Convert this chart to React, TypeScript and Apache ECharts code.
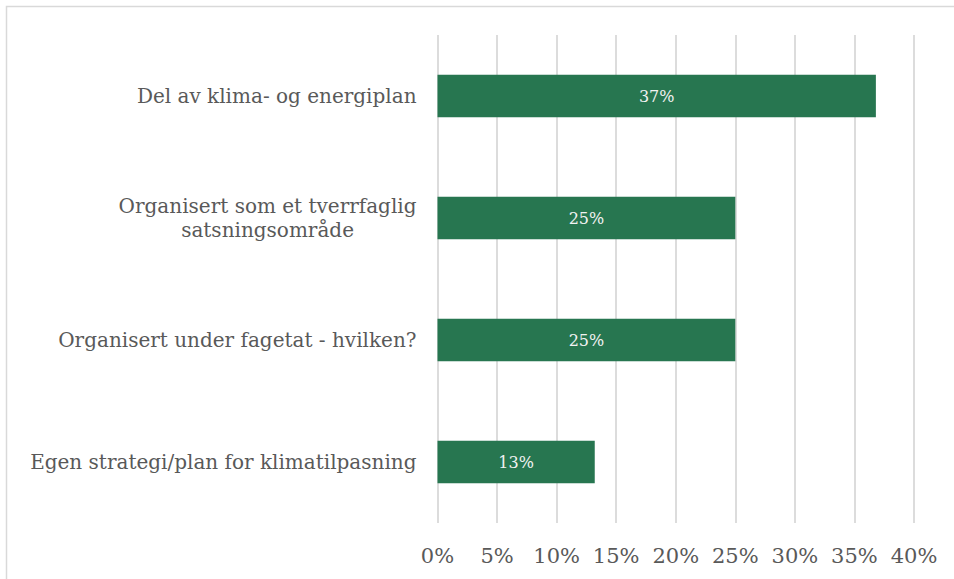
import React, { useEffect, useRef } from "react";
import * as echarts from "echarts";

const categories = [
  "Del av klima- og energiplan",
  "Organisert som et tverrfaglig\nsatsningsområde",
  "Organisert under fagetat - hvilken?",
  "Egen strategi/plan for klimatilpasning",
];
const values = [36.8, 25, 25, 13.2];
const tickMax = 40;
const tickInterval = 5;

const FONT = "DejaVu Serif";

export default function App() {
  const ref = useRef<HTMLDivElement>(null);
  useEffect(() => {
    document.body.style.margin = "0";
    const chart = echarts.init(ref.current!, null, { renderer: "svg" });
    chart.setOption({
      animation: false,
      backgroundColor: "#ffffff",
      textStyle: { fontFamily: FONT },
      graphic: [
        {
          type: "rect",
          shape: { x: 6.5, y: 6.5, width: 1000, height: 1000 },
          style: { fill: "none", stroke: "#d9d9d9", lineWidth: 1.5 },
          silent: true,
        },
      ],
      grid: { left: 437.5, right: 40, top: 35, bottom: 56, containLabel: false },
      xAxis: {
        type: "value",
        min: 0,
        max: tickMax,
        interval: tickInterval,
        axisLine: { show: false },
        axisTick: { show: false },
        splitLine: { show: true, lineStyle: { color: "#dcdcdc", width: 2 } },
        axisLabel: {
          formatter: "{value}%",
          color: "#595959",
          fontFamily: FONT,
          fontSize: 21,
          margin: 22,
        },
      },
      yAxis: {
        type: "category",
        inverse: true,
        data: categories,
        axisLine: { show: false },
        axisTick: { show: false },
        axisLabel: {
          color: "#595959",
          fontFamily: FONT,
          fontSize: 20,
          margin: 21,
          lineHeight: 24,
          formatter: (v: string) =>
            v
              .split("\n")
              .map((l) => "{c|" + l + "}")
              .join("\n"),
          rich: {
            c: {
              align: "center",
              color: "#595959",
              fontFamily: FONT,
              fontSize: 20,
              lineHeight: 24,
            },
          },
        },
      },
      series: [
        {
          type: "bar",
          data: values,
          barWidth: "35%",
          itemStyle: { color: "#277650" },
          label: {
            show: true,
            position: "inside",
            color: "#f2f2f2",
            fontFamily: FONT,
            fontSize: 16,
            formatter: (p: any) => Math.round(p.value) + "%",
          },
        },
      ],
    });
    return () => chart.dispose();
  }, []);
  return <div ref={ref} style={{ width: 954, height: 579 }} />;
}
